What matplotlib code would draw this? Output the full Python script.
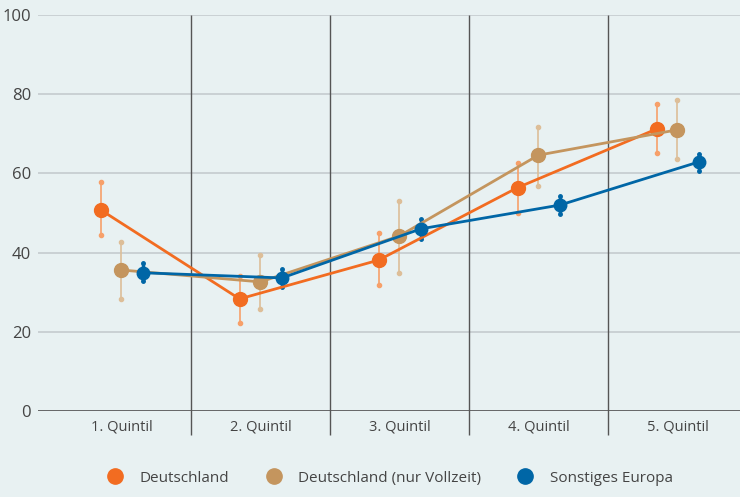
import numpy as np
import matplotlib.pyplot as plt
from matplotlib.lines import Line2D

categories = ['1. Quintil', '2. Quintil', '3. Quintil', '4. Quintil', '5. Quintil']
series_names = ['Deutschland', 'Deutschland (nur Vollzeit)', 'Sonstiges Europa']

de_values = [50.8, 28.3, 38.1, 56.4, 71.2]
de_low = [44.4, 22.2, 31.7, 49.9, 65.1]
de_high = [57.8, 34.2, 45.0, 62.7, 77.5]

vz_values = [35.6, 32.6, 44.2, 64.6, 71.0]
vz_low = [28.2, 25.8, 34.9, 56.9, 63.6]
vz_high = [42.6, 39.5, 53.1, 71.8, 78.4]

eu_values = [34.9, 33.6, 46.0, 52.0, 62.9]
eu_low = [32.7, 31.4, 43.5, 49.7, 60.7]
eu_high = [37.3, 35.8, 48.4, 54.3, 64.9]

colors = ['#F26C21', '#C4955E', '#0066A6']
err_colors = ['#F7A06A', '#DDBE98', '#0066A6']
offsets = [-0.15, 0.0, 0.155]

plt.rcParams['font.family'] = ['Open Sans', 'DejaVu Sans']

fig = plt.figure(figsize=(7.4, 4.97), dpi=100)
fig.patch.set_facecolor('#E8F1F2')
ax = fig.add_axes([0.0514, 0.173, 0.9486, 0.797])
ax.set_facecolor('#E8F1F2')

x = np.arange(len(categories))
data = [(de_values, de_low, de_high), (vz_values, vz_low, vz_high), (eu_values, eu_low, eu_high)]

for i, (vals, lo, hi) in enumerate(data):
    xs = x + offsets[i]
    vals = np.array(vals)
    yerr = [vals - np.array(lo), np.array(hi) - vals]
    ew = 1.2 if i < 2 else 2.5
    ax.errorbar(xs, vals, yerr=yerr, fmt='none', ecolor=err_colors[i], elinewidth=ew, zorder=3)
    cap = 3 if i < 2 else 2.5
    ax.plot(xs, lo, 'o', color=err_colors[i], markersize=cap, zorder=3)
    ax.plot(xs, hi, 'o', color=err_colors[i], markersize=cap, zorder=3)
    ms = 10 if i < 2 else 9
    ax.plot(xs, vals, '-o', color=colors[i], linewidth=2, markersize=ms, zorder=4 + i)

ax.set_ylim(0, 100)
ax.set_xlim(-0.6, 4.45)
ax.set_yticks([0, 20, 40, 60, 80, 100])
ax.yaxis.grid(True, color='#C5CBCE', linewidth=1.2)
ax.set_axisbelow(True)

ax.vlines([0.5, 1.5, 2.5, 3.5], -6, 100, color='#555555', linewidth=1, clip_on=False, zorder=2)
ax.axhline(0, color='#555555', linewidth=1.2, zorder=2)

for s in ax.spines.values():
    s.set_visible(False)

ax.set_xticks(x)
ax.set_xticklabels(categories)
ax.tick_params(axis='x', length=0, pad=6, labelsize=10.5, labelcolor='#444444')
ax.tick_params(axis='y', length=0, pad=5, labelsize=12, labelcolor='#444444')

handles = [Line2D([], [], linestyle='none', marker='o', markersize=11, color=c) for c in colors]
fig.legend(handles, series_names, loc='lower center', bbox_to_anchor=(0.522, -0.005), ncol=3,
           frameon=False, fontsize=11, labelcolor='#444444', handletextpad=0.6, columnspacing=1.9)

fig.savefig('out.png', dpi=100, facecolor=fig.get_facecolor())
